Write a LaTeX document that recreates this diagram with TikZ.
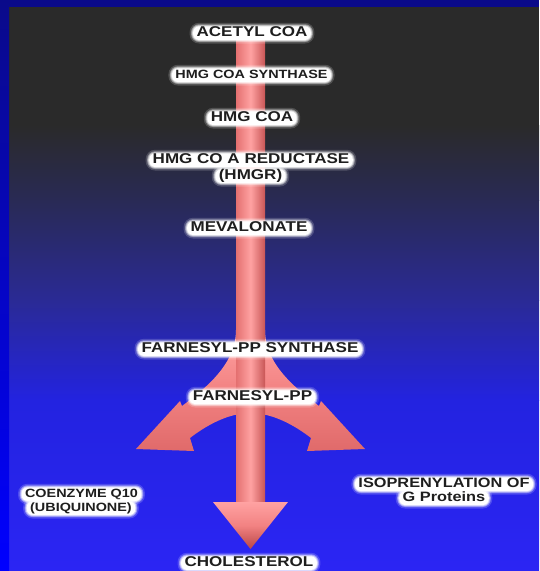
\documentclass[tikz,border=0pt]{standalone}
\usepackage{fontspec}
\newfontfamily\lblfont[FakeStretch=1.2]{Liberation Sans}
\definecolor{labeltext}{HTML}{1E1E1E}
\definecolor{bgA}{HTML}{2A2A2A}
\definecolor{bgB}{HTML}{292A55}
\definecolor{bgC}{HTML}{2A2A95}
\definecolor{bgD}{HTML}{2323E0}
\definecolor{bgE}{HTML}{2B25F4}
\definecolor{frameTop}{HTML}{0A0A8A}
\definecolor{frameBot}{HTML}{0000FF}
\definecolor{pinkLight}{HTML}{FFA2A2}
\definecolor{pinkMid}{HTML}{F28282}
\definecolor{pinkEdge}{HTML}{E47070}
\definecolor{pinkDark}{HTML}{C85656}
\definecolor{pinkSoft}{HTML}{E06A6A}
\definecolor{pinkDeep}{HTML}{B84646}
\tikzset{
  lbl/.style={font=\lblfont\bfseries\fontsize{14.2}{15}\selectfont,
    text=labeltext, fill=white, rounded corners=6pt,
    inner xsep=3.5pt, inner ysep=2.5pt, text height=0.72em, text depth=0.15em,
    anchor=base,
    preaction={draw=white, line width=7pt, draw opacity=0.18},
    preaction={draw=white, line width=4pt, draw opacity=0.4},
    preaction={draw=white, line width=2pt, draw opacity=0.6}},
  smalllbl/.style={font=\lblfont\bfseries\fontsize{12}{13}\selectfont},
  midlbl/.style={font=\lblfont\bfseries\fontsize{13.6}{14}\selectfont},
}
\begin{document}
\begin{tikzpicture}[x=1pt,y=1pt]
\useasboundingbox (0,0) rectangle (539,-571);
% background
\fill[bgA] (9,-7) rectangle (539,-125.5);
\shade[top color=bgA, bottom color=bgB] (9,-125) rectangle (539,-200.5);
\shade[top color=bgB, bottom color=bgC] (9,-200) rectangle (539,-300.5);
\shade[top color=bgC, bottom color=bgD] (9,-300) rectangle (539,-400.5);
\shade[top color=bgD, bottom color=bgE] (9,-400) rectangle (539,-571);
% frame
\fill[frameTop] (0,0) rectangle (539,-7);
\shade[top color=frameTop, bottom color=frameBot] (0,0) rectangle (9,-571);
% branches
\shade[top color=pinkLight, bottom color=pinkSoft, middle color=pinkMid]
  (236,-330) .. controls (236,-364) and (206,-388) .. (182,-406)
  -- (180,-401) -- (136,-449) -- (194,-451) -- (190,-438)
  .. controls (208,-424) and (226,-416) .. (240,-414) -- (240,-330) -- cycle;
\shade[top color=pinkLight, bottom color=pinkSoft, middle color=pinkMid]
  (265,-330) .. controls (265,-364) and (295,-388) .. (319,-406)
  -- (321,-401) -- (365,-449) -- (307,-451) -- (311,-438)
  .. controls (293,-424) and (275,-416) .. (261,-414) -- (261,-330) -- cycle;
% main shaft and head
\shade[left color=pinkEdge, right color=pinkDark, middle color=pinkLight]
  (236,-34) rectangle (265,-503);
\shade[top color=pinkLight, bottom color=pinkDeep, middle color=pinkMid]
  (213,-502) -- (288,-502) -- (250.5,-549) -- cycle;
% labels
\node[lbl] (acetyl) at (252,-36) {ACETYL COA};
\node[lbl,smalllbl] (synth) at (251.5,-78) {HMG COA SYNTHASE};
\node[lbl] (hmgcoa) at (252,-121) {HMG COA};
\node[lbl] (reduct) at (251,-163) {HMG CO A REDUCTASE};
\node[lbl] (hmgr) at (250.5,-179) {(HMGR)};
\node[lbl] (meval) at (249,-231) {MEVALONATE};
\node[lbl] (fppsynth) at (250,-352) {FARNESYL-PP SYNTHASE};
\node[lbl] (fpp) at (252.5,-400) {FARNESYL-PP};
\node[lbl,smalllbl] (coq) at (81.5,-497) {COENZYME Q10};
\node[lbl,smalllbl] (ubiq) at (81,-511) {(UBIQUINONE)};
\node[lbl,midlbl] (isopren) at (444,-487) {ISOPRENYLATION OF};
\node[lbl,midlbl] (gprot) at (444,-501) {G Proteins};
\node[lbl] (chol) at (249,-566) {CHOLESTEROL};
\end{tikzpicture}
\end{document}
